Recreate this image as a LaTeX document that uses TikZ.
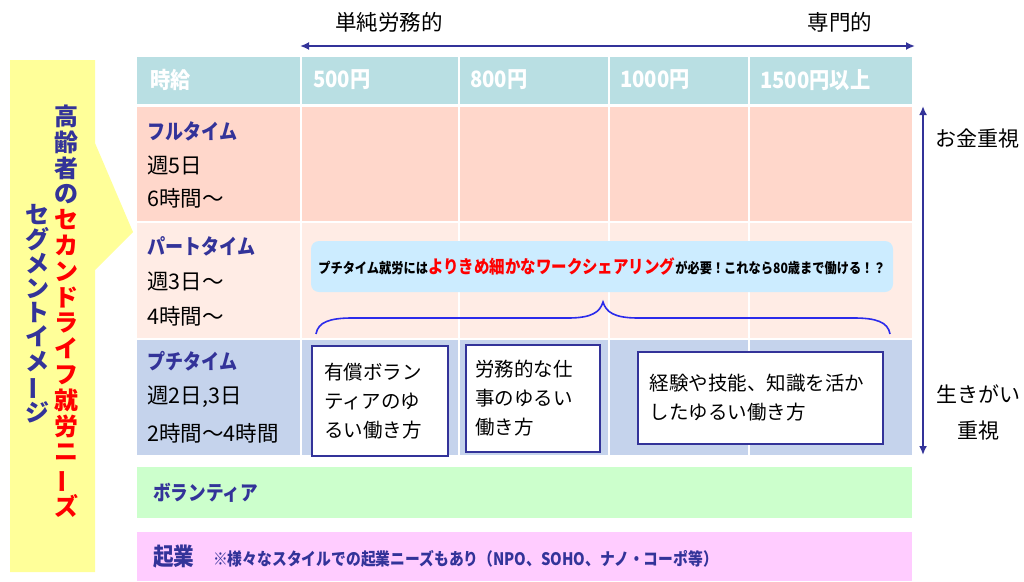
\documentclass[tikz,border=0pt]{standalone}
\usepackage{fontspec}
\usepackage{graphicx}
\setmainfont{Noto Sans CJK JP}
\newfontfamily\jpc[FakeStretch=0.86]{Noto Sans CJK JP}
\newfontfamily\jph[FakeStretch=0.9]{Noto Sans CJK JP}
\usetikzlibrary{arrows.meta}
\definecolor{navy}{HTML}{333399}
\definecolor{hdr}{HTML}{B9DFE3}
\definecolor{fullc}{HTML}{FFD7CB}
\definecolor{partc}{HTML}{FFECE5}
\definecolor{puchic}{HTML}{C5D3EC}
\definecolor{bubblec}{HTML}{CCECFF}
\definecolor{bracec}{HTML}{2B2BEB}
\definecolor{volc}{HTML}{CCFFCC}
\definecolor{kigc}{HTML}{FFCCFF}
\definecolor{yelc}{HTML}{FFFF99}
\newcommand\myfs[2]{\fontsize{#1}{#2}\selectfont}
\newcommand\vbar{\rotatebox[origin=c]{90}{ー}}
\newcommand\rc[1]{\textcolor{red}{#1}}
\begin{document}
\begin{tikzpicture}[x=1pt,y=-1pt,
  lab/.style={anchor=west,inner sep=0pt,font=\myfs{21.5}{21.5}},
  ttl/.style={anchor=west,inner sep=0pt,text=navy,font=\jpc\bfseries\myfs{21}{21}},
  hd/.style={anchor=west,inner sep=0pt,text=white,font=\jph\bfseries\myfs{22.5}{22.5}},
  wbox/.style={draw=navy,line width=2.5pt,fill=white,align=left,inner sep=0pt,font=\myfs{19.5}{29}},
  arr/.style={draw=navy,line width=2.2pt,{Latex[length=9pt,width=8pt]}-{Latex[length=9pt,width=8pt]}},
  sep/.style={draw=white,line width=2pt}]
\useasboundingbox (0,0) rectangle (1024,581);
% left yellow callout
\path[fill=yelc] (10,60) -- (95,60) -- (95,143) -- (133,232) -- (95,270) -- (95,572) -- (10,572) -- cycle;
\node[align=center,inner sep=0pt,text=navy,font=\bfseries\myfs{24}{25.8}] (vt1) at (66,311)
 {高\\齢\\者\\の\\\rc{セ}\\\rc{カ}\\\rc{ン}\\\rc{ド}\\\rc{ラ}\\\rc{イ}\\\rc{フ}\\\rc{就}\\\rc{労}\\\rc{ニ}\\\rc{\vbar}\\\rc{ズ}};
\node[align=center,inner sep=0pt,text=navy,font=\bfseries\myfs{24}{24.4}] (vt2) at (37,314)
 {セ\\グ\\メ\\ン\\ト\\イ\\メ\\\vbar\\ジ};
% rows
\fill[hdr] (137,57) rectangle (912,104);
\fill[fullc] (137,107) rectangle (912,221);
\fill[partc] (137,223) rectangle (912,338);
\fill[puchic] (137,340) rectangle (912,455);
\foreach \cx in {301,459,609,749}{\draw[sep] (\cx,57) -- (\cx,455);}
\fill[volc] (137,467) rectangle (912,518);
\fill[kigc] (137,532) rectangle (912,581);
% header texts
\node[hd] (h0) at (150,80) {時給};
\node[hd] (h1) at (313,80) {500円};
\node[hd] (h2) at (470,80) {800円};
\node[hd] (h3) at (620,80) {1000円};
\node[hd] (h4) at (760,80) {1500円以上};
% row labels
\node[ttl] (f1) at (147,131) {フルタイム};
\node[lab] (f2) at (147,165) {週5日};
\node[lab] (f3) at (147,198) {6時間～};
\node[ttl] (p1) at (147,246) {パートタイム};
\node[lab] (p2) at (147,281) {週3日～};
\node[lab] (p3) at (147,316) {4時間～};
\node[ttl] (q1) at (147,361) {プチタイム};
\node[lab] (q2) at (147,397) {週2日,3日};
\node[lab] (q3) at (147,433) {2時間～4時間};
% bubble
\node[fill=bubblec,rounded corners=8pt,minimum width=582pt,minimum height=51pt,inner sep=0pt,
      font=\jpc\bfseries] (bub) at (602,266.5)
 {\myfs{14.2}{15}プチタイム就労には\textcolor{red}{\myfs{18}{19}よりきめ細かなワークシェアリング}が必要！これなら80歳まで働ける！？};
% brace
\coordinate (brL) at (316,334);
\coordinate (brM) at (603,302);
\coordinate (brR) at (890,334);
\draw[bracec,line width=1.6pt] (brL) .. controls (318,322) and (330,318) .. (352,318) -- (568,318)
  .. controls (592,318) and (600,312) .. (brM) .. controls (606,312) and (614,318) .. (638,318)
  -- (854,318) .. controls (876,318) and (888,322) .. (brR);
% boxes
\node[wbox,minimum width=136pt,minimum height=110pt,text width=112pt] (b1) at (380,401) {有償ボラン\\ティアのゆ\\るい働き方};
\node[wbox,minimum width=134pt,minimum height=107pt,text width=116pt] (b2) at (533,398.5) {労務的な仕\\事のゆるい\\働き方};
\node[wbox,minimum width=245pt,minimum height=92pt,text width=222pt] (b3) at (760.5,398) {経験や技能、知識を活か\\したゆるい働き方};
% bottom rows
\node[ttl,font=\jpc\bfseries\myfs{20.5}{20.5}] (vol) at (153,493) {ボランティア};
\node[ttl,font=\jpc\bfseries\myfs{24}{24}] (kig) at (153,557) {起業};
\node[ttl,font=\jpc\bfseries\myfs{17.2}{17.5}] (kign) at (213,559) {※様々なスタイルでの起業ニーズもあり（NPO、SOHO、ナノ・コーポ等）};
% top axis
\coordinate (tL) at (300,46);
\coordinate (tR) at (915,46);
\draw[arr] (tL) -- (tR);
\node[font=\myfs{21.5}{21.5},inner sep=0pt] (tl1) at (389,22) {単純労務的};
\node[font=\myfs{21.5}{21.5},inner sep=0pt] (tl2) at (840,22) {専門的};
% right axis
\coordinate (rT) at (923,106);
\coordinate (rB) at (923,455);
\draw[arr] (rT) -- (rB);
\node[font=\myfs{21}{21},inner sep=0pt] (rl1) at (977,139) {お金重視};
\node[font=\myfs{21}{36},inner sep=0pt,align=center] (rl2) at (978,412) {生きがい\\重視};
\end{tikzpicture}
\end{document}
